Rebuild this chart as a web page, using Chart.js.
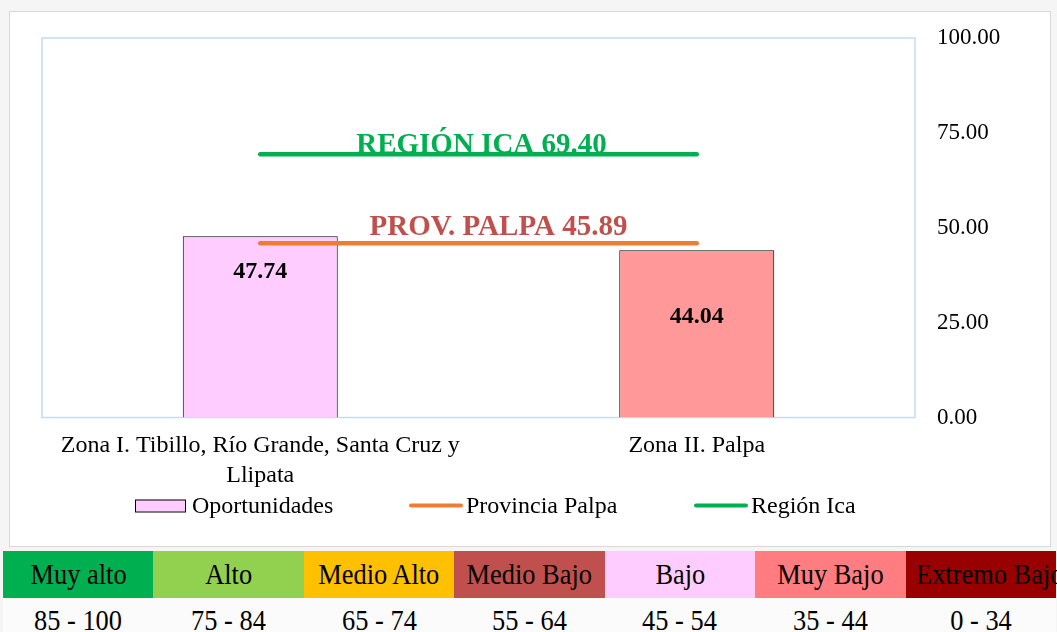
<!DOCTYPE html>
<html>
<head>
<meta charset="utf-8">
<script src="https://cdn.jsdelivr.net/npm/chart.js@4.4.1/dist/chart.umd.min.js"></script>
<style>
  body { margin: 0; background: #f5f5f5; width: 1057px; height: 632px; overflow: hidden; position: relative; font-family: "Liberation Serif", "Times New Roman", serif; }
  #frame { position: absolute; left: 9px; top: 11px; width: 1040px; height: 534px; border: 1px solid #d9d9d9; background: #fff; }
  #chart { display: block; }
  .scale { position: absolute; left: 3px; width: 1053px; }
  .row { display: flex; }
  .cell { width: 150.43px; text-align: center; font-size: 30px; overflow: visible; white-space: nowrap; }
  .cell span { display: inline-block; transform: scaleX(0.88); }
  .row1 .cell { height: 47px; line-height: 46px; }
  .row2 { background: #fbfbfb; }
  .row2 .cell { height: 40px; line-height: 44px; }
</style>
</head>
<body>
<div id="frame"><canvas id="chart" width="1040" height="534"></canvas></div>
<div class="scale" style="top:551px">
  <div class="row row1" id="levels"></div>
  <div class="row row2" id="ranges"></div>
</div>
<script>
const zonas = [["Zona I. Tibillo, Río Grande, Santa Cruz y", "Llipata"], "Zona II. Palpa"];
const oportunidades = [47.74, 44.04];
const barColors = ["#FFCCFF", "#FF9999"];
const provinciaPalpa = [45.89, 45.89];
const regionIca = [69.40, 69.40];
const yTicks = [0, 25, 50, 75, 100];

const niveles = ["Muy alto", "Alto", "Medio Alto", "Medio Bajo", "Bajo", "Muy Bajo", "Extremo Bajo"];
const rangos = ["85 - 100", "75 - 84", "65 - 74", "55 - 64", "45 - 54", "35 - 44", "0 - 34"];
const nivelColors = ["#00B050", "#92D050", "#FFC000", "#C0504D", "#FFCCFF", "#FF7C80", "#990000"];

const levelsRow = document.getElementById("levels");
const rangesRow = document.getElementById("ranges");
niveles.forEach((n, i) => {
  const c = document.createElement("div");
  c.className = "cell";
  c.style.background = nivelColors[i];
  c.innerHTML = "<span>" + n + "</span>";
  levelsRow.appendChild(c);
  const r = document.createElement("div");
  r.className = "cell";
  r.innerHTML = "<span>" + rangos[i] + "</span>";
  rangesRow.appendChild(r);
});

const serif = "'Liberation Serif', 'Times New Roman', serif";

// light blue frame round the plot area
const plotFrame = {
  id: "plotFrame",
  beforeDatasetsDraw(chart) {
    const a = chart.chartArea;
    const ctx = chart.ctx;
    ctx.save();
    ctx.strokeStyle = "#C5DCF1";
    ctx.lineWidth = 1.5;
    ctx.strokeRect(a.left, a.top, a.right - a.left, a.bottom - a.top);
    ctx.restore();
  },
};

// value labels inside the bars and the two reference captions
const labels = {
  id: "labels",
  afterDatasetsDraw(chart) {
    const ctx = chart.ctx;
    const a = chart.chartArea;
    const y = chart.scales.y;
    const meta = chart.getDatasetMeta(0);
    const offsets = [35, 66];
    ctx.save();
    ctx.textAlign = "center";
    ctx.textBaseline = "middle";
    ctx.fillStyle = "#000";
    ctx.font = "bold 24px " + serif;
    meta.data.forEach((bar, i) => {
      ctx.fillText(oportunidades[i].toFixed(2), bar.x, bar.y + offsets[i]);
    });
    const cx = (a.left + a.right) / 2;
    ctx.textBaseline = "alphabetic";
    ctx.font = "bold 29px " + serif;
    ctx.fillStyle = "#00B050";
    ctx.fillText("REGIÓN ICA " + regionIca[0].toFixed(2), cx + 3, y.getPixelForValue(regionIca[0]) - 1);
    ctx.fillStyle = "#C0504D";
    ctx.fillText("PROV. PALPA " + provinciaPalpa[0].toFixed(2), cx + 20, y.getPixelForValue(provinciaPalpa[0]) - 8);
    ctx.restore();
  },
};

// legend row under the category labels
const legendRow = {
  id: "legendRow",
  afterDraw(chart) {
    const ctx = chart.ctx;
    const xs = [125, 399, 684];
    const yc = 493.5;
    ctx.save();
    ctx.font = "24px " + serif;
    ctx.textBaseline = "middle";
    ctx.textAlign = "left";
    chart.data.datasets.forEach((ds, i) => {
      const x = xs[i];
      if (ds.type === "bar") {
        ctx.fillStyle = barColors[0];
        ctx.fillRect(x, yc - 6, 50, 12);
        ctx.strokeStyle = "#000";
        ctx.lineWidth = 1;
        ctx.strokeRect(x + 0.5, yc - 6 + 0.5, 50, 12);
      } else {
        ctx.strokeStyle = ds.borderColor;
        ctx.lineWidth = 4;
        ctx.lineCap = "round";
        ctx.beginPath();
        ctx.moveTo(x + 2, yc);
        ctx.lineTo(x + 52, yc);
        ctx.stroke();
      }
      ctx.fillStyle = "#000";
      ctx.fillText(ds.label, x + 57, yc + 1);
    });
    ctx.restore();
  },
};

new Chart(document.getElementById("chart"), {
  data: {
    labels: zonas,
    datasets: [
      {
        type: "bar",
        label: "Oportunidades",
        data: oportunidades,
        backgroundColor: barColors,
        borderColor: "#000",
        borderWidth: 1,
        barPercentage: 0.355,
        categoryPercentage: 1,
        order: 2,
      },
      {
        type: "line",
        label: "Provincia Palpa",
        data: provinciaPalpa,
        borderColor: "#ED7D31",
        borderWidth: 4.5,
        borderCapStyle: "round",
        pointRadius: 0,
        order: 1,
      },
      {
        type: "line",
        label: "Región Ica",
        data: regionIca,
        borderColor: "#00B050",
        borderWidth: 4.5,
        borderCapStyle: "round",
        pointRadius: 0,
        order: 0,
      },
    ],
  },
  options: {
    responsive: false,
    animation: false,
    layout: { padding: { left: 32, top: 26, right: 0, bottom: 38.5 } },
    plugins: {
      legend: { display: false },
      tooltip: { enabled: false },
    },
    scales: {
      x: {
        grid: { display: false, drawTicks: false },
        border: { display: false },
        ticks: {
          color: "#000",
          padding: 13,
          maxRotation: 0,
          autoSkip: false,
          font: { family: serif, size: 24, lineHeight: 1.25 },
        },
        afterFit(axis) { axis.height = 90; },
      },
      y: {
        position: "right",
        min: 0,
        max: 100,
        afterBuildTicks(axis) { axis.ticks = yTicks.map(v => ({ value: v })); },
        grid: { display: false, drawTicks: false },
        border: { display: false },
        ticks: {
          color: "#000",
          padding: 22,
          font: { family: serif, size: 23 },
          callback: v => Number(v).toFixed(2),
        },
        afterFit(axis) {
          axis.width = 135;
          axis.paddingTop = 0;
          axis.paddingBottom = 0;
        },
      },
    },
  },
  plugins: [plotFrame, labels, legendRow],
});
</script>
</body>
</html>
